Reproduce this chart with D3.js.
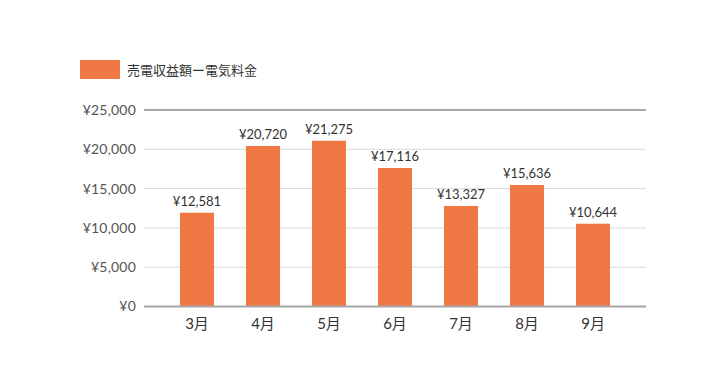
<!DOCTYPE html>
<html>
<meta charset="utf-8">
<head>
	<script src="https://d3js.org/d3.v7.min.js"></script>
	<style>
		body { margin: 0; background: #fff; }
		text { font-family: Lato, "Noto Sans CJK JP", sans-serif; }
		.grid line { stroke: #d9d9d9; stroke-width: 1px; }
		line.edge, .grid line.edge { stroke: #a6a6a6; stroke-width: 2px; }
	</style>
</head>
<body>
<script>
	// data
	var months = ["3月", "4月", "5月", "6月", "7月", "8月", "9月"];
	var barValues = [11930, 20420, 21090, 17620, 12790, 15460, 10530];
	var labelValues = [12581, 20720, 21275, 17116, 13327, 15636, 10644];
	var yTicks = [0, 5000, 10000, 15000, 20000, 25000];
	var seriesName = "売電収益額ー電気料金";

	var width = 726,
		height = 390;
	var plotLeft = 144, plotRight = 646, plotTop = 110, plotBottom = 306.5;
	var barColor = "#f07845";

	var svg = d3.select("body").append("svg")
		.attr("width", width)
		.attr("height", height);

	var x = d3.scaleBand()
		.domain(months)
		.range([plotLeft, plotRight])
		.paddingInner(0.485)
		.paddingOuter(0.545);

	var y = d3.scaleLinear()
		.domain([0, 25000])
		.range([plotBottom, plotTop]);

	var fmt = function(v) { return "¥" + d3.format(",")(v); };

	// gridlines
	var grid = svg.append("g").attr("class", "grid");
	grid.selectAll("line")
		.data(yTicks).enter()
		.append("line")
		.attr("x1", plotLeft)
		.attr("x2", plotRight)
		.attr("y1", function(d) { return y(d); })
		.attr("y2", function(d) { return y(d); })
		.attr("class", function(d) { return d === 25000 ? "edge" : null; });

	// y labels
	svg.append("g")
		.attr("transform", "translate(" + (plotLeft - 8) + ",0)")
		.call(d3.axisLeft(y).tickValues(yTicks).tickSize(0).tickPadding(0).tickFormat(fmt))
		.call(function(g) { g.select(".domain").remove(); })
		.selectAll("text")
		.attr("fill", "#555")
		.style("font-size", "14px")
		.style("letter-spacing", "0.2px");

	// bars
	svg.selectAll("rect.bar")
		.data(months).enter()
		.append("rect")
		.attr("class", "bar")
		.attr("x", function(d) { return x(d); })
		.attr("width", x.bandwidth())
		.attr("y", function(d, i) { return y(barValues[i]); })
		.attr("height", function(d, i) { return y(0) - y(barValues[i]); })
		.attr("fill", barColor);

	// value labels
	svg.selectAll("text.val")
		.data(months).enter()
		.append("text")
		.attr("class", "val")
		.attr("x", function(d) { return x(d) + x.bandwidth() / 2; })
		.attr("y", function(d, i) { return y(barValues[i]) - 7; })
		.attr("text-anchor", "middle")
		.attr("fill", "#333")
		.style("font-size", "13px")
		.text(function(d, i) { return fmt(labelValues[i]); });

	// baseline
	svg.append("line")
		.attr("class", "edge")
		.attr("x1", plotLeft).attr("x2", plotRight)
		.attr("y1", y(0)).attr("y2", y(0));

	// x labels
	svg.append("g")
		.attr("transform", "translate(0," + y(0) + ")")
		.call(d3.axisBottom(x).tickSize(0).tickPadding(12))
		.call(function(g) { g.select(".domain").remove(); })
		.selectAll("text")
		.attr("fill", "#333")
		.style("font-size", "15px");

	// legend
	svg.append("rect")
		.attr("x", 80).attr("y", 60)
		.attr("width", 40).attr("height", 19)
		.attr("fill", barColor);
	svg.append("text")
		.attr("x", 127).attr("y", 74.5)
		.attr("fill", "#333")
		.style("font-size", "13px")
		.text(seriesName);
</script>
</body>
</html>
